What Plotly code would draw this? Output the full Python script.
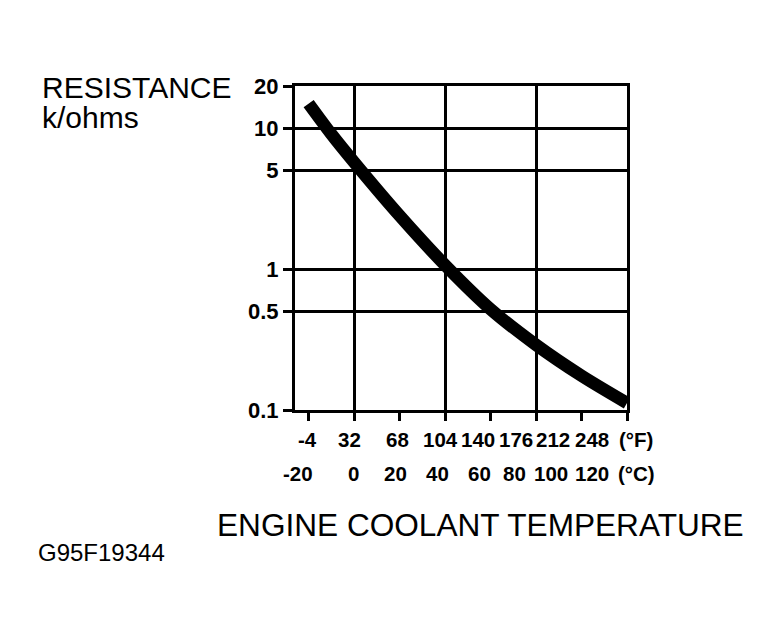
import math
import plotly.graph_objects as go

# ---- data ----
temp_c = [-20, -10, 0, 20, 40, 60, 80, 100, 120]
resistance_kohm = [15.0, 9.1, 5.75, 2.4, 1.07, 0.52, 0.29, 0.175, 0.112]

tick_f_labels = ["-4", "32", "68", "104", "140", "176", "212", "248"]
tick_c_labels = ["-20", "0", "20", "40", "60", "80", "100", "120"]
grid_c = [0, 40, 80, 120]
minor_c = [-20, 20, 60, 100]

y_ticks = [0.1, 0.5, 1, 5, 10, 20]
y_tick_labels = ["0.1", "0.5", "1", "5", "10", "20"]

# ---- layout geometry (pixels, in reference-image coordinates) ----
W, H = 777, 638
BODY = 8  # default page body margin
L, R, T, B = 295, 627, 86, 410
FONT = "Liberation Sans, Arial, Helvetica, sans-serif"

def px_x(px):
    return (px - L) / (R - L)

def px_y(py):
    return (B - py) / (B - T)

# label centre positions (pixels) for the two label rows
row_f_px = [307, 349, 397, 440, 478, 516, 553, 592]
row_c_px = [298, 353, 395, 437, 479, 514, 551, 592]

fig = go.Figure()
fig.add_trace(go.Scatter(
    x=temp_c, y=resistance_kohm, mode="lines",
    line=dict(color="black", width=12.5, shape="spline", smoothing=0.8),
    hoverinfo="x+y", showlegend=False,
))

def lab(text, x, y, size, bold=False, anchor="center"):
    return dict(text=text, x=px_x(x), y=px_y(y), xref="paper", yref="paper",
                xanchor=anchor, yanchor="middle", showarrow=False,
                font=dict(family=FONT, size=size, color="black",
                          weight=700 if bold else 400))

ann = []
for t, px in zip(tick_f_labels, row_f_px):
    ann.append(lab(t, px, 439, 20.5, bold=True))
for t, px in zip(tick_c_labels, row_c_px):
    ann.append(lab(t, px, 473, 20.5, bold=True))
ann.append(lab("(°F)", 636, 439, 20.5, bold=True))
ann.append(lab("(°C)", 636, 473, 20.5, bold=True))
ann.append(lab("RESISTANCE", 40, 87, 30, anchor="left"))
ann.append(lab("k/ohms", 40, 117, 30, anchor="left"))
ann.append(lab("ENGINE COOLANT TEMPERATURE", 215, 525, 31.6, anchor="left"))
ann.append(lab("G95F19344", 36, 552, 24, anchor="left"))

fig.update_layout(
    width=W - BODY, height=H - BODY, autosize=False,
    margin=dict(l=L - BODY, r=W - R, t=T - BODY, b=H - B, pad=0),
    paper_bgcolor="white", plot_bgcolor="white",
    font=dict(family=FONT, color="black"),
    annotations=ann,
    xaxis=dict(
        range=[-26, 120], tickmode="array", tickvals=grid_c,
        showticklabels=False, ticks="outside", ticklen=8, tickwidth=3, tickcolor="black",
        showgrid=True, gridcolor="black", gridwidth=3,
        showline=True, linecolor="black", linewidth=3, mirror=True, zeroline=False,
        minor=dict(tickmode="array", tickvals=minor_c, ticks="outside", ticklen=8,
                   tickwidth=3, tickcolor="black", showgrid=False),
        fixedrange=True,
    ),
    yaxis=dict(
        type="log", range=[-1, math.log10(20)], tickmode="array",
        tickvals=y_ticks, ticktext=y_tick_labels,
        tickfont=dict(family=FONT, size=22, color="black", weight=700),
        ticks="outside", ticklen=9, tickwidth=3, tickcolor="black",
        showgrid=True, gridcolor="black", gridwidth=3,
        showline=True, linecolor="black", linewidth=3, mirror=True, zeroline=False,
        fixedrange=True,
    ),
)

fig.write_html("out.html", config=dict(displayModeBar=False))
